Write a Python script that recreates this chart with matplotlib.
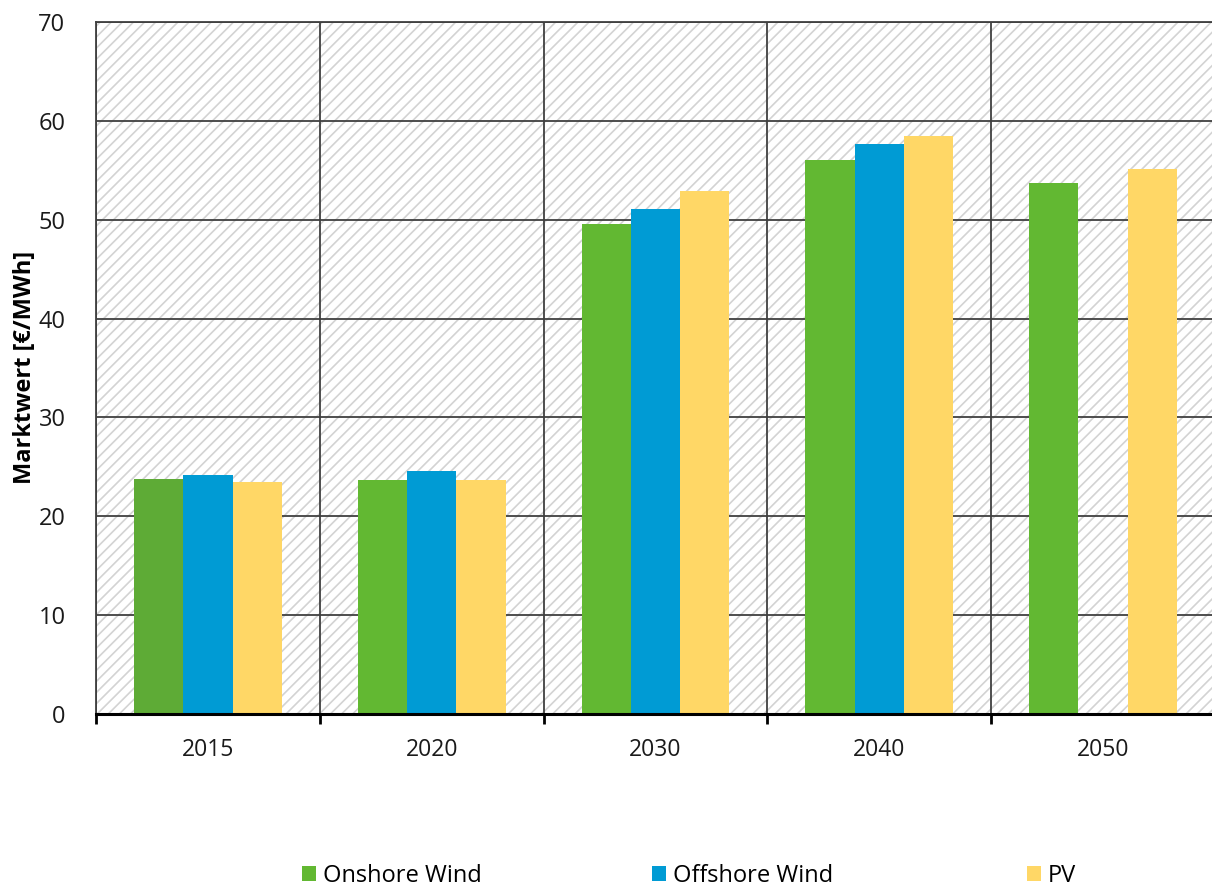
import numpy as np
import matplotlib
matplotlib.use("Agg")
import matplotlib.pyplot as plt
from matplotlib.patches import Rectangle

# Market values of renewable generation [EUR/MWh]
years = ["2015", "2020", "2030", "2040", "2050"]
series_names = ["Onshore Wind", "Offshore Wind", "PV"]
onshore = [23.8, 23.7, 49.6, 56.0, 53.7]
offshore = [24.2, 24.6, 51.1, 57.7, np.nan]
pv = [23.5, 23.7, 52.9, 58.5, 55.1]
y_ticks = [0, 10, 20, 30, 40, 50, 60, 70]

green = "#62B832"
green_dark = "#5EAB36"
blue = "#009BD4"
yellow = "#FFD766"

plt.rcParams["font.family"] = ["Open Sans", "DejaVu Sans"]
plt.rcParams["hatch.linewidth"] = 1.2

fig = plt.figure(figsize=(12.12, 8.91), dpi=100)
ax = fig.add_axes([96 / 1212, 1 - 714 / 891, 1119 / 1212, 692 / 891])

x = np.arange(len(years))
w = 0.22

# hatched plot background
bg = Rectangle((0, 0), 1, 1, transform=ax.transAxes, facecolor="white",
               edgecolor="#D3D3D3", hatch="///", linewidth=0, zorder=0)
ax.add_patch(bg)

onshore_colors = [green_dark] + [green] * (len(years) - 1)
b1 = ax.bar(x - w, onshore, w, color=onshore_colors, label=series_names[0], zorder=3, linewidth=0)
b2 = ax.bar(x, offshore, w, color=blue, label=series_names[1], zorder=3, linewidth=0)
b3 = ax.bar(x + w, pv, w, color=yellow, label=series_names[2], zorder=3, linewidth=0)

ax.set_xlim(-0.5, len(years) - 0.5)
ax.set_ylim(0, 70)
ax.set_yticks(y_ticks)
ax.set_yticklabels([str(t) for t in y_ticks])
ax.set_xticks(x)
ax.set_xticklabels(years)
ax.set_xticks(np.arange(-0.5, len(years)), minor=True)

ax.tick_params(axis="y", length=0, pad=22, labelsize=17, labelcolor="#1a1a1a")
ax.tick_params(axis="x", which="major", length=0, pad=17, labelsize=16.5, labelcolor="#1a1a1a")
ax.tick_params(axis="x", which="minor", length=7, width=2, color="black", direction="out")

ax.grid(axis="y", which="major", color="#404040", linewidth=1.3, zorder=1)
ax.grid(axis="x", which="minor", color="#404040", linewidth=1.3, zorder=1)
ax.set_axisbelow(True)

for side in ["top", "right", "left"]:
    ax.spines[side].set_color("#404040")
    ax.spines[side].set_linewidth(1.3)
ax.spines["bottom"].set_color("black")
ax.spines["bottom"].set_linewidth(2.2)
ax.spines["bottom"].set_zorder(5)

fig.text(25 / 1212, 1 - 367 / 891, "Marktwert [€/MWh]", rotation=90,
         ha="center", va="center", fontsize=17, fontweight="bold", color="black")

# legend entries spread along the bottom
legend_x = [302 / 1212, 652 / 1212, 1027 / 1212]
for handle, name, lx in zip([b1, b2, b3], series_names, legend_x):
    patch = Rectangle((0, 0), 1, 1, facecolor=handle.patches[-1].get_facecolor(), linewidth=0)
    fig.legend([patch], [name], loc="center left", bbox_to_anchor=(lx, 1 - 876 / 891),
               frameon=False, fontsize=17, handlelength=0.6, handleheight=0.6,
               handletextpad=0.3, borderpad=0, borderaxespad=0)

fig.savefig("out.png", dpi=100)
